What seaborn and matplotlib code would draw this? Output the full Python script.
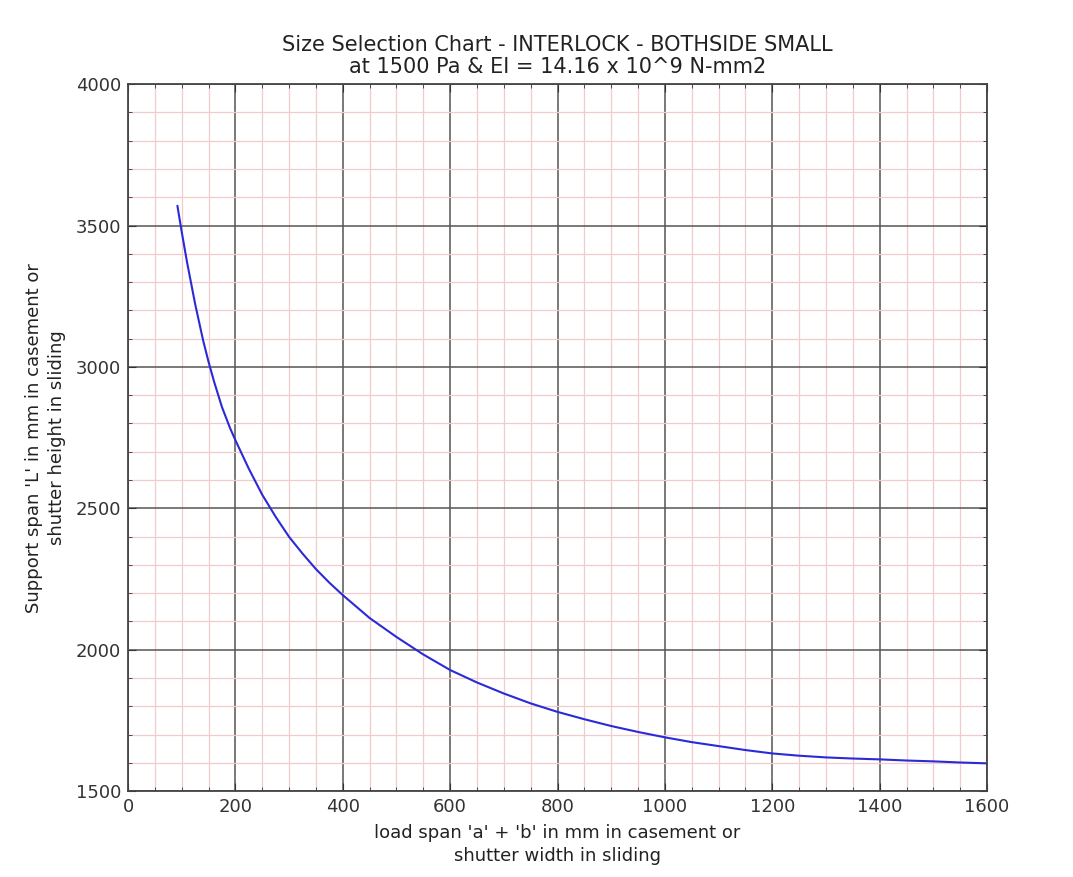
import matplotlib
matplotlib.use("Agg")
import matplotlib.pyplot as plt
import seaborn as sns
import pandas as pd
from matplotlib.ticker import MultipleLocator

load_span = [92, 100, 110, 125, 140, 150, 160, 175, 190, 200, 225, 250, 275, 300,
             325, 350, 375, 400, 450, 500, 550, 600, 650, 700, 750, 800, 850,
             900, 950, 1000, 1050, 1100, 1150, 1200, 1250, 1300, 1350, 1400,
             1450, 1500, 1550, 1600]
support_span = [3570, 3478, 3370, 3223, 3093, 3018, 2950, 2858, 2784, 2741, 2640,
                2548, 2470, 2399, 2340, 2285, 2237, 2193, 2112, 2045, 1983, 1928,
                1884, 1845, 1810, 1780, 1754, 1730, 1709, 1690, 1673, 1659, 1645,
                1633, 1625, 1619, 1615, 1612, 1608, 1605, 1601, 1598]

title = "Size Selection Chart - INTERLOCK - BOTHSIDE SMALL\nat 1500 Pa & EI = 14.16 x 10^9 N-mm2"
xlabel = "load span 'a' + 'b' in mm in casement or\nshutter width in sliding"
ylabel = "Support span 'L' in mm in casement or\nshutter height in sliding"

sns.set_style("white")
plt.rcParams['font.family'] = ['DejaVu Sans']

df = pd.DataFrame({"x": load_span, "y": support_span})

fig = plt.figure(figsize=(10.73, 8.77), dpi=100)
ax = fig.add_axes([0.1193, 0.098, 0.8006, 0.806])
sns.lineplot(data=df, x="x", y="y", ax=ax, color="#2a2ad8", linewidth=1.5)

ax.set_xlim(0, 1600)
ax.set_ylim(1500, 4000)
ax.xaxis.set_major_locator(MultipleLocator(200))
ax.xaxis.set_minor_locator(MultipleLocator(50))
ax.yaxis.set_major_locator(MultipleLocator(500))
ax.yaxis.set_minor_locator(MultipleLocator(100))

ax.grid(which="minor", color="#f2cccc", linewidth=0.9)
ax.grid(which="major", color="#555555", linewidth=1.1)
ax.set_axisbelow(True)

ax.tick_params(which="both", direction="in", top=True, right=True,
               bottom=True, left=True, labelsize=13, colors="#333333")
ax.tick_params(which="major", length=6, pad=5)
ax.tick_params(which="minor", length=3)
for sp in ax.spines.values():
    sp.set_color("#444444")
    sp.set_linewidth(1.3)

ax.set_xlabel(xlabel, fontsize=13, color="#222222", labelpad=6, linespacing=1.3)
ax.set_ylabel(ylabel, fontsize=13, color="#222222", labelpad=7, linespacing=1.35)
ax.set_title(title, fontsize=15, color="#222222", pad=8, linespacing=1.1)

fig.savefig("out.png", dpi=100)
